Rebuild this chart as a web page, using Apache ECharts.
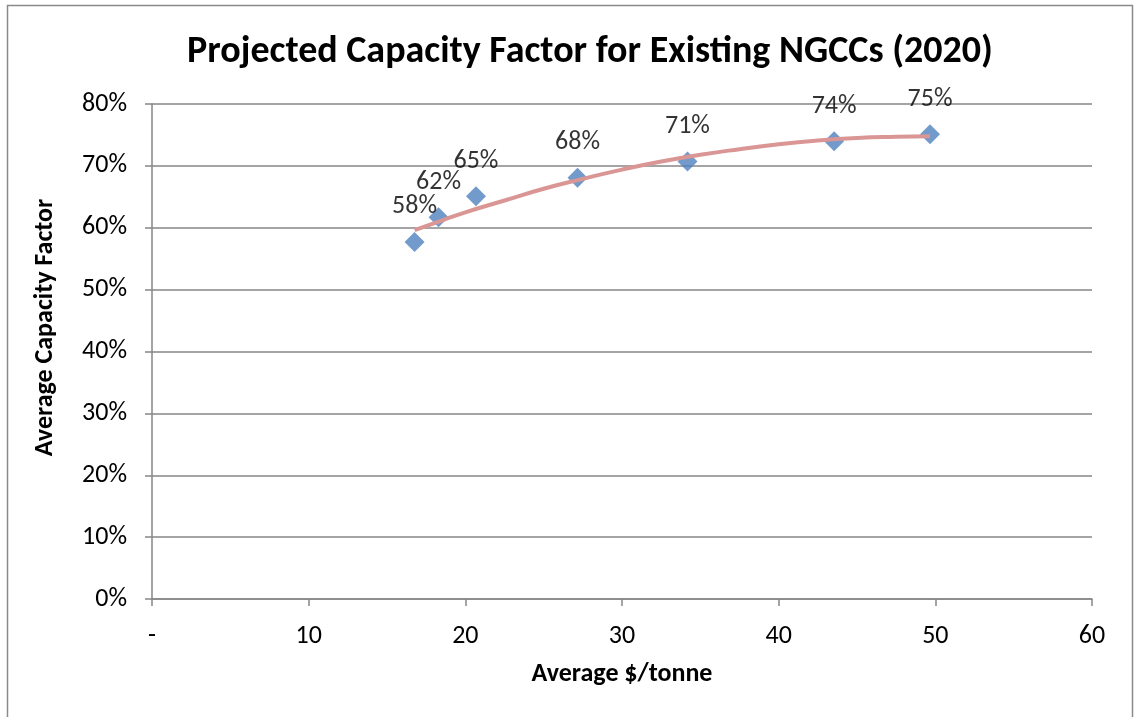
<!DOCTYPE html>
<html>
<head>
<meta charset="utf-8">
<script src="https://cdn.jsdelivr.net/npm/echarts@6/dist/echarts.min.js"></script>
<style>
  html, body { margin: 0; padding: 0; background: #fff; }
  #chart { width: 1137px; height: 717px; }
</style>
</head>
<body>
<div id="chart"></div>
<script>
// values
const costPerTonne = [16.76, 18.29, 20.68, 27.16, 34.18, 43.54, 49.66]
const capacityFactor = [57.7, 61.7, 65.1, 68.1, 70.7, 74.0, 75.1]
const pointLabels = ['58%', '62%', '65%', '68%', '71%', '74%', '75%']

// trend line
const trendX = [16.76, 18.3, 20, 22.5, 25, 27.5, 30, 32.5, 35, 37.5, 40, 42.5, 45, 47.5, 49.66]
const trendY = [59.6, 61.0, 62.5, 64.4, 66.3, 67.9, 69.4, 70.7, 71.8, 72.7, 73.5, 74.1, 74.5, 74.7, 74.8]

const xTicks = { 0: '-', 10: '10', 20: '20', 30: '30', 40: '40', 50: '50', 60: '60' }

const font = 'Carlito, "Open Sans", "Noto Sans", sans-serif'
const grey = '#868686'

const chart = echarts.init(document.getElementById('chart'))

chart.setOption({
  backgroundColor: '#fff',
  animation: false,
  textStyle: { fontFamily: font },
  graphic: [{
    type: 'rect',
    shape: { x: 7.5, y: 5.5, width: 1125, height: 730 },
    style: { fill: 'none', stroke: '#8a8a8a', lineWidth: 1.5 },
    z: 0
  }],
  title: {
    text: 'Projected Capacity Factor for Existing NGCCs (2020)',
    left: 182,
    top: 28,
    textStyle: { fontFamily: font, fontSize: 38, fontWeight: 'bold', color: '#000' }
  },
  grid: { left: 152, right: 45, top: 104, bottom: 118 },
  xAxis: {
    type: 'value',
    min: 0,
    max: 60,
    interval: 10,
    name: 'Average $/tonne',
    nameLocation: 'middle',
    nameGap: 62,
    nameTextStyle: { fontFamily: font, fontSize: 26, fontWeight: 'bold', color: '#000' },
    axisLine: { show: true, lineStyle: { color: grey, width: 1.5 } },
    axisTick: { show: true, length: 7, lineStyle: { color: grey, width: 1.5 } },
    axisLabel: { fontSize: 26, color: '#000', margin: 24, formatter: v => xTicks[v] },
    splitLine: { show: false }
  },
  yAxis: {
    type: 'value',
    min: 0,
    max: 80,
    interval: 10,
    name: 'Average Capacity Factor',
    nameLocation: 'middle',
    nameGap: 94,
    nameTextStyle: {
      fontFamily: font, fontSize: 26, fontWeight: 'bold', color: '#000',
      padding: [0, 0, 0, 48]
    },
    axisLine: { show: true, lineStyle: { color: grey, width: 1.5 } },
    axisTick: { show: true, length: 7, lineStyle: { color: grey, width: 1.5 } },
    axisLabel: { fontSize: 26, color: '#000', margin: 25, formatter: v => v + '%' },
    splitLine: { show: true, lineStyle: { color: grey, width: 1.5 } }
  },
  series: [
    {
      name: 'trend',
      type: 'line',
      smooth: true,
      symbol: 'none',
      data: trendX.map((x, i) => [x, trendY[i]]),
      lineStyle: { color: '#DA9694', width: 4 },
      z: 3
    },
    {
      name: 'capacity',
      type: 'scatter',
      symbol: 'diamond',
      symbolSize: 20,
      data: costPerTonne.map((x, i) => [x, capacityFactor[i]]),
      itemStyle: { color: '#4F81BD' },
      label: {
        show: true,
        position: 'top',
        distance: 12,
        fontSize: 26,
        color: '#000',
        formatter: p => pointLabels[p.dataIndex]
      },
      z: 2
    }
  ]
})
</script>
</body>
</html>
